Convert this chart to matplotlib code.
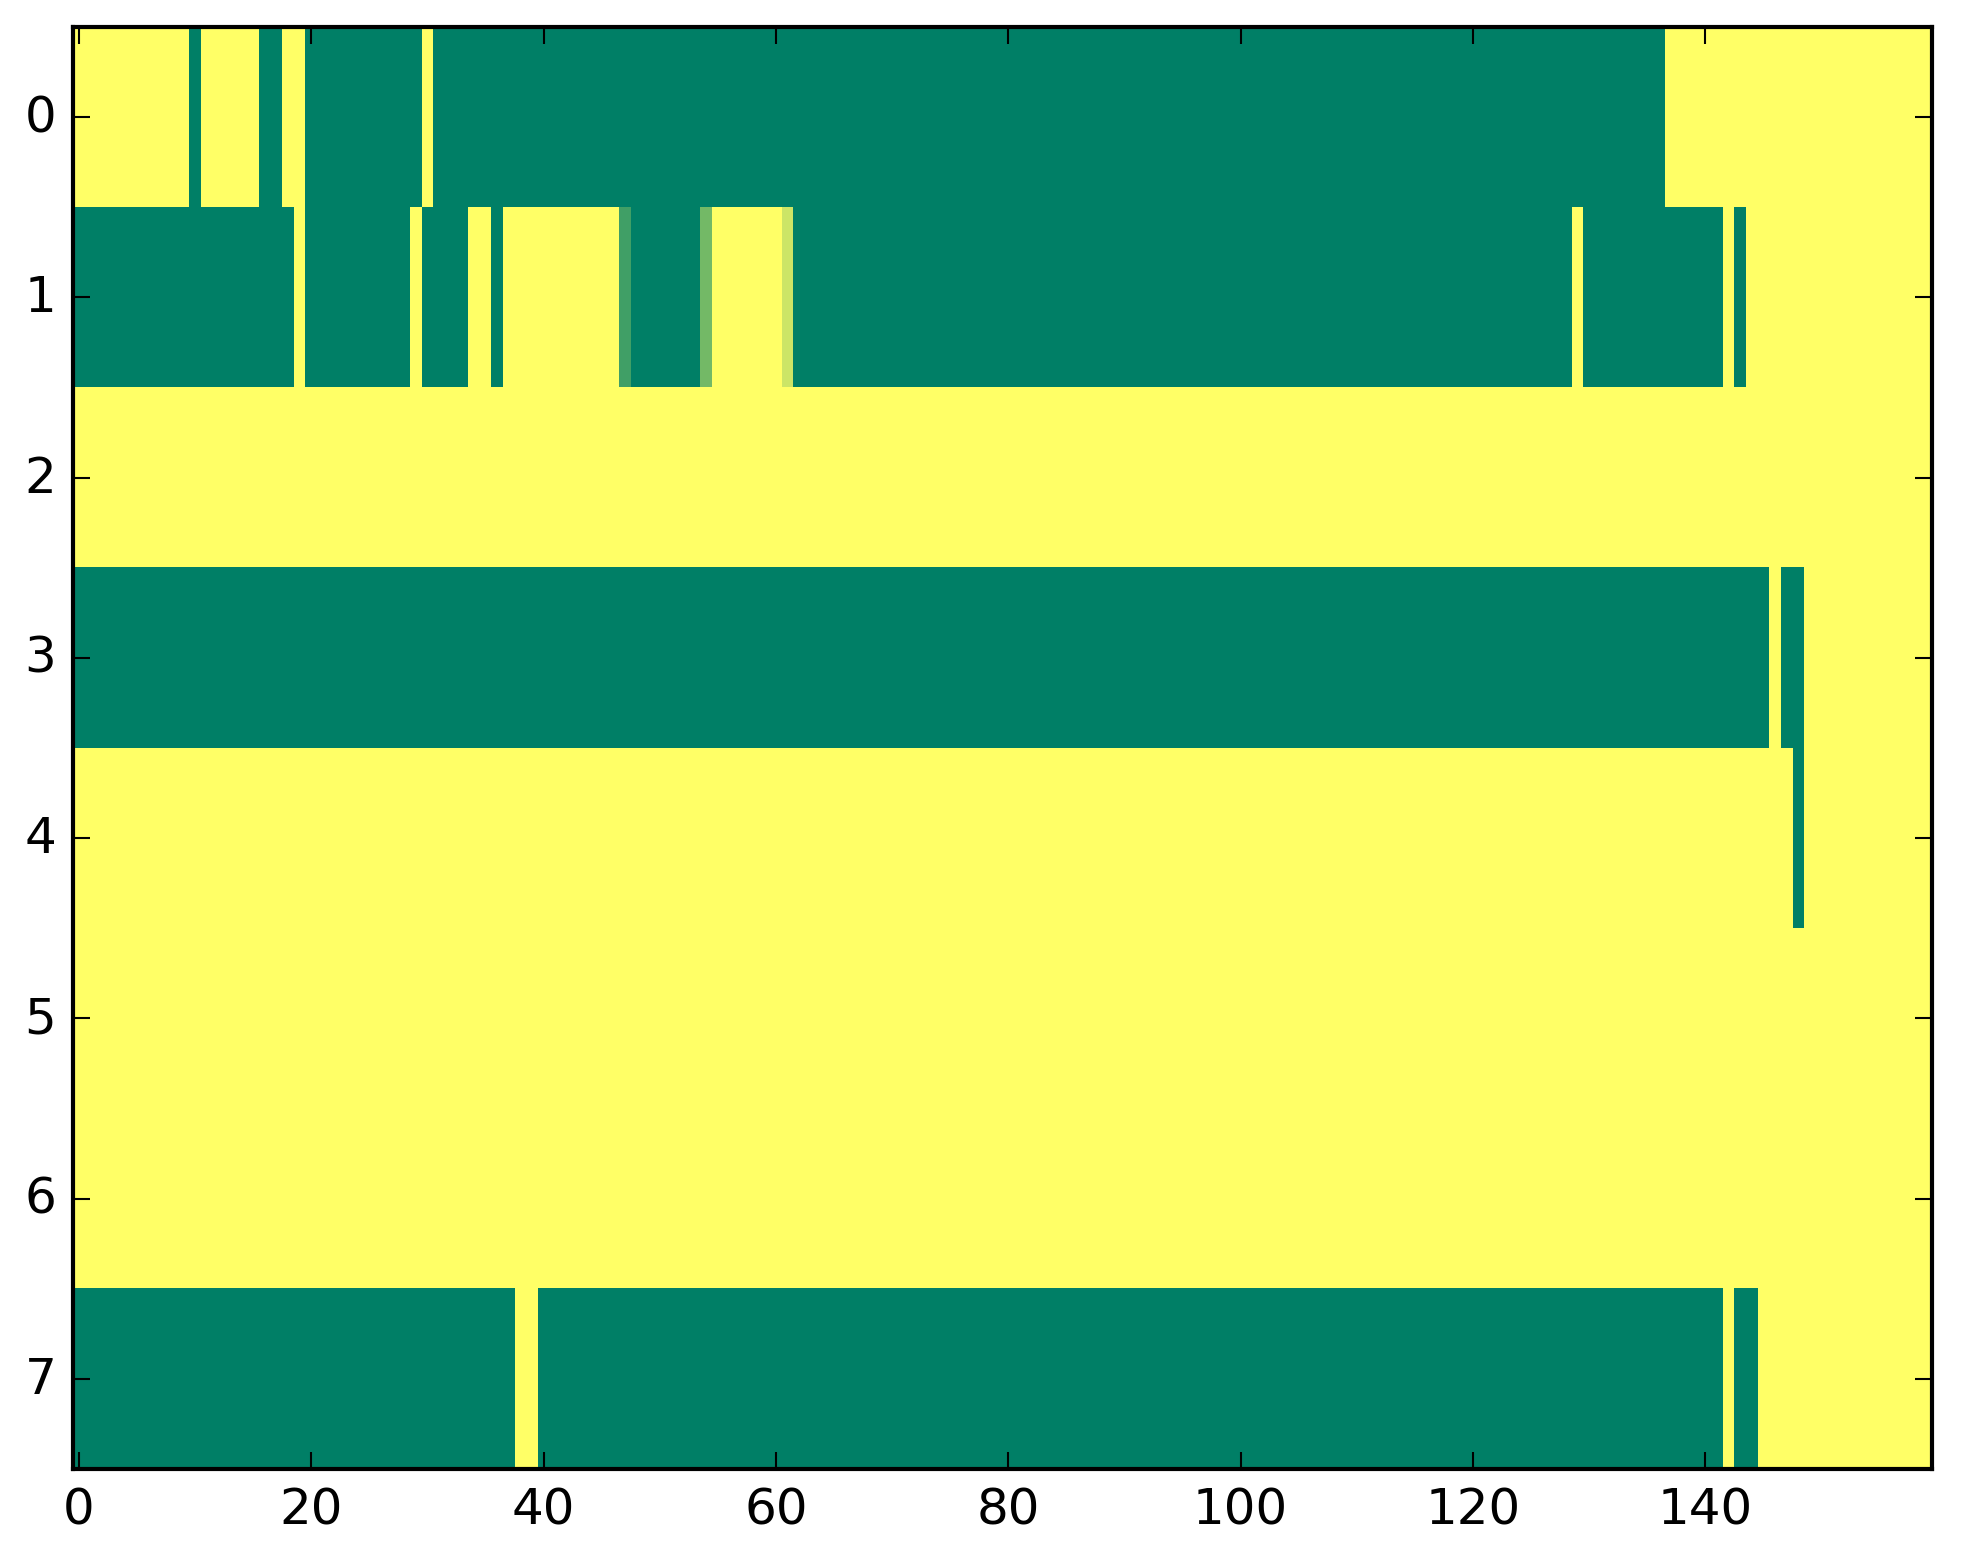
"""Heat strip of 8 channels x 160 samples (summer colormap)"""

import numpy as np
import matplotlib
matplotlib.use('Agg')
from matplotlib import pyplot as plt

# Rows written as runs of (value, count)
row0 = [1] * 10 + [0] * 1 + [1] * 5 + [0] * 2 + [1] * 2 + [0] * 10 + [1] * 1 + [0] * 106 + [1] * 23
row1 = ([0] * 19 + [1] * 1 + [0] * 9 + [1] * 1 + [0] * 4 + [1] * 2 + [0] * 1 + [1] * 10
        + [0.25] + [0] * 6 + [0.45] + [1] * 6 + [0.8] + [0] * 67 + [1] * 1 + [0] * 12
        + [1] * 1 + [0] * 1 + [1] * 16)
row2 = [1] * 160
row3 = [0] * 146 + [1] * 1 + [0] * 2 + [1] * 11
row4 = [1] * 148 + [0] * 1 + [1] * 11
row5 = [1] * 160
row6 = [1] * 160
row7 = [0] * 38 + [1] * 2 + [0] * 102 + [1] * 1 + [0] * 2 + [1] * 15

data = np.array([row0, row1, row2, row3, row4, row5, row6, row7], dtype=float)

plt.style.use('classic')
fig = plt.figure(figsize=(1963 / 300, 1564 / 300), dpi=300)
ax = fig.add_axes([73 / 1963, 1 - 1470 / 1564, 1859 / 1963, 1442 / 1564])
ax.imshow(data, cmap='summer', aspect='auto', interpolation='nearest', vmin=0, vmax=1)
ax.set_xticks(np.arange(0, 160, 20))
ax.set_yticks(np.arange(0, 8))

fig.savefig('out.png', dpi=300)
